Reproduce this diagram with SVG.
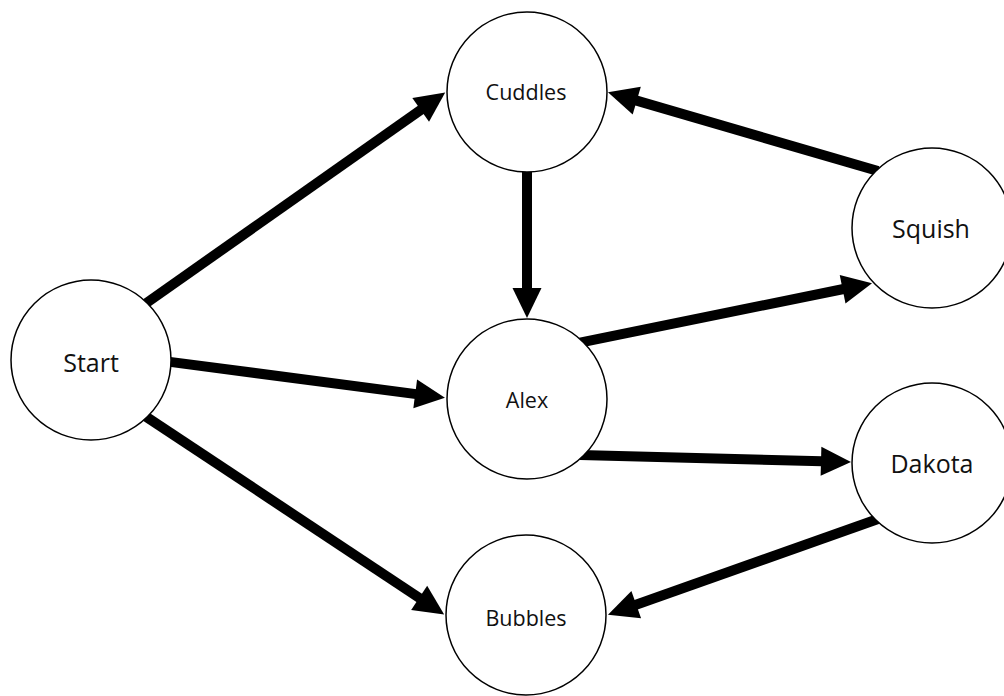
<svg xmlns="http://www.w3.org/2000/svg" width="1004" height="696" viewBox="0 0 1004 696">
  <style>
    .node circle { fill: #ffffff; stroke: #000000; stroke-width: 1.5; }
    .node text { font-family: "Open Sans", "Noto Sans", sans-serif; fill: #111111; text-anchor: middle; }
    .small { font-size: 21.5px; }
    .big { font-size: 25px; }
    .edge { stroke: #000000; stroke-width: 10; fill: none; marker-end: url(#arrow); }
  </style>
  <defs>
    <marker id="arrow" markerUnits="userSpaceOnUse" markerWidth="32" markerHeight="32" viewBox="0 -16 32 32" refX="1" refY="0" orient="auto" overflow="visible">
      <path d="M0,-14.5 L30,0 L0,14.5 Z" fill="#000000"/>
    </marker>
  </defs>
  <rect width="1004" height="696" fill="#ffffff"/>
  <g id="connectors">
    <line class="edge" x1="145" y1="304" x2="421.5" y2="109.3"/>
    <line class="edge" x1="878" y1="171" x2="635.8" y2="100.4"/>
    <line class="edge" x1="527" y1="169" x2="527" y2="289"/>
    <line class="edge" x1="168" y1="361.6" x2="416.2" y2="394.1"/>
    <line class="edge" x1="580" y1="342.6" x2="843.6" y2="289"/>
    <line class="edge" x1="580" y1="455" x2="822" y2="461.2"/>
    <line class="edge" x1="878" y1="519" x2="635.3" y2="605"/>
    <line class="edge" x1="145" y1="416" x2="420" y2="598.4"/>
  </g>
  <g id="node-start" class="node">
    <circle cx="91" cy="360" r="80"/>
    <text class="big" x="91" y="372">Start</text>
  </g>
  <g id="node-cuddles" class="node">
    <circle cx="527" cy="92" r="80"/>
    <text class="small" x="526" y="100">Cuddles</text>
  </g>
  <g id="node-alex" class="node">
    <circle cx="527" cy="399" r="80"/>
    <text class="small" x="527" y="408">Alex</text>
  </g>
  <g id="node-bubbles" class="node">
    <circle cx="526" cy="615" r="80"/>
    <text class="small" x="526" y="626">Bubbles</text>
  </g>
  <g id="node-squish" class="node">
    <circle cx="932" cy="228" r="80"/>
    <text class="big" x="931" y="238">Squish</text>
  </g>
  <g id="node-dakota" class="node">
    <circle cx="932" cy="463" r="80"/>
    <text class="big" x="932" y="473">Dakota</text>
  </g>
</svg>
